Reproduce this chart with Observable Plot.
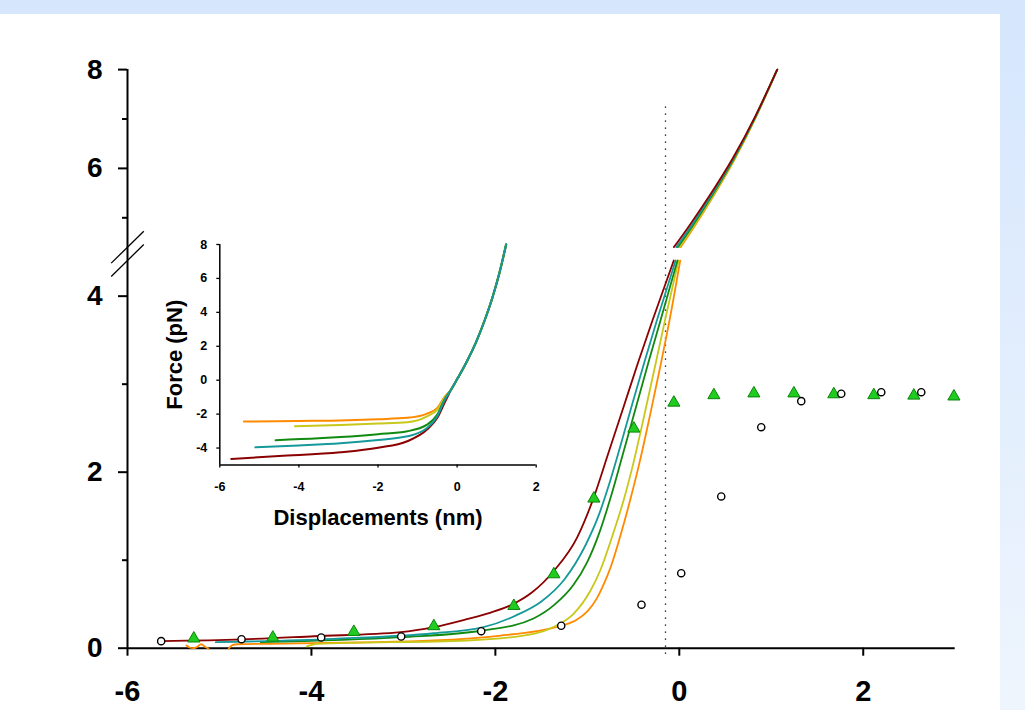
<!DOCTYPE html>
<html><head><meta charset="utf-8">
<script src="https://cdn.jsdelivr.net/npm/d3@7"></script>
<script src="https://cdn.jsdelivr.net/npm/@observablehq/plot@0.6"></script>
<style>
html,body{margin:0;padding:0;}
body{width:1025px;height:710px;overflow:hidden;position:relative;background:linear-gradient(#d5e6fd,#eef5fd);font-family:"Liberation Sans",Arial,sans-serif;color:#000;}
#panel{position:absolute;left:0;top:14px;width:1000px;height:696px;background:#fff;}
#main{position:absolute;left:0;top:0;}
#inset{position:absolute;left:130px;top:225px;}
</style></head><body>
<div id="panel"></div><div id="main"></div><div id="inset"></div>
<script>
// ---------- series colours ----------
const colRed = "#8b0000", colTeal = "#16999b", colGreen = "#118a11", colYellow = "#c8c81a", colOrange = "#ff8a00";

// ---------- main chart: fitted curves, lower (0..4.4) part ----------
const mainLowerRed = [[-5.63,0.08],[-4.76,0.10],[-3.97,0.136],[-3.03,0.182],[-2.67,0.239],[-2.31,0.33],[-2.05,0.405],[-1.80,0.505],[-1.60,0.635],[-1.36,0.883],[-1.11,1.26],[-0.929,1.716],[-0.77,2.22],[-0.60,2.76],[-0.45,3.24],[-0.29,3.73],[-0.06,4.405]];
const mainLowerTeal = [[-5.04,0.068],[-3.76,0.107],[-2.67,0.170],[-2.13,0.239],[-1.78,0.37],[-1.50,0.53],[-1.25,0.78],[-1.02,1.17],[-0.88,1.50],[-0.77,1.84],[-0.64,2.30],[-0.51,2.78],[-0.38,3.25],[-0.245,3.72],[-0.04,4.405]];
const mainLowerGreen = [[-4.55,0.068],[-3.03,0.125],[-2.13,0.201],[-1.585,0.338],[-1.35,0.50],[-1.15,0.72],[-1.00,0.98],[-0.87,1.31],[-0.75,1.70],[-0.62,2.18],[-0.46,2.78],[-0.33,3.27],[-0.20,3.74],[-0.02,4.405]];
const mainLowerYellow = [[-4.05,0.02],[-3.94,0.05],[-2.31,0.0875],[-1.585,0.164],[-1.35,0.25],[-1.15,0.391],[-0.965,0.656],[-0.86,0.883],[-0.72,1.30],[-0.60,1.70],[-0.50,2.10],[-0.38,2.65],[-0.26,3.22],[-0.14,3.80],[-0.008,4.405]];
const mainLowerOrange = [[-5.36,0.03],[-5.32,0.005],[-5.29,0.0],[-5.25,0.01],[-5.20,0.045],[-5.15,0.01],[-5.12,-0.005],[NaN,NaN],
  [-4.90,-0.005],[-4.86,0.035],[-4.80,0.045],[-4.445,0.05],[-3.5,0.065],[-2.67,0.0875],[-1.94,0.144],[-1.55,0.195],[-1.28,0.255],[-1.12,0.32],[-1.00,0.418],[-0.90,0.56],[-0.82,0.73],[-0.74,0.94],[-0.64,1.28],[-0.53,1.70],[-0.43,2.12],[-0.32,2.64],[-0.205,3.21],[-0.10,3.76],[0.01,4.405]];

// ---------- main chart: fitted curves, upper (4.4..8) part ----------
const mainUpperRed = [[-0.059,4.406],[0.09,4.79],[0.33,5.45],[0.58,6.20],[0.83,7.07],[1.065,8.0]];
const mainUpperTeal = [[-0.032,4.406],[0.113,4.79],[0.346,5.45],[0.589,6.20],[0.834,7.07],[1.065,8.0]];
const mainUpperGreen = [[-0.016,4.406],[0.127,4.79],[0.356,5.45],[0.595,6.20],[0.836,7.07],[1.065,8.0]];
const mainUpperYellow = [[0.003,4.406],[0.143,4.79],[0.367,5.45],[0.602,6.20],[0.839,7.07],[1.065,8.0]];
const mainUpperOrange = [[0.014,4.406],[0.152,4.79],[0.374,5.45],[0.606,6.20],[0.841,7.07],[1.065,8.0]];

// ---------- main chart: measured points ----------
const triX = [-5.279,-4.420,-3.539,-2.669,-1.799,-1.364,-0.929,-0.494,-0.059,0.376,0.811,1.246,1.680,2.115,2.550,2.986];
const triY = [0.11,0.12,0.185,0.25,0.48,0.84,1.70,2.495,2.79,2.875,2.895,2.895,2.885,2.875,2.87,2.86];
const circX = [-5.634,-4.760,-3.894,-3.024,-2.154,-1.284,-0.411,0.021,0.456,0.891,1.326,1.761,2.196,2.631];
const circY = [0.080,0.102,0.122,0.133,0.193,0.255,0.494,0.852,1.724,2.511,2.807,2.891,2.909,2.909];

// ---------- main chart: axes ----------
const mainXTicks = [-6,-4,-2,0,2];
const mainYTicks = [0,2,4,6,8];
const mainYMinor = [1,3,5,7];
const yBreakLow = 4.405, yBreakHigh = 4.406;   // broken y axis
const breakGap = 0.152, upperRatio = 0.5613;    // gap and compression of the upper part
const breakMarks = [[-6.177,4.375,-5.823,4.728],[-6.177,4.224,-5.823,4.459]];
const contactX = -0.15;  // dotted reference line
const contactY = [-0.07, 7.3];

// ---------- inset ----------
const insetCommon = [[0.02,0.14],[0.25,1.12],[0.48,2.25],[0.70,3.55],[0.89,4.85],[1.07,6.32],[1.24,8.0]];
const insetRed = [[-5.71,-4.64],[-4.5,-4.47],[-2.95,-4.25],[-2.0,-3.98],[-1.26,-3.60],[-0.76,-2.91],[-0.50,-2.22],[-0.32,-1.35],[-0.15,-0.55]];
const insetTeal = [[-5.10,-3.96],[-4.0,-3.85],[-2.95,-3.72],[-2.0,-3.52],[-1.26,-3.31],[-0.76,-2.82],[-0.50,-2.12],[-0.32,-1.20],[-0.15,-0.55]];
const insetGreen = [[-4.59,-3.54],[-3.5,-3.43],[-2.95,-3.35],[-2.0,-3.18],[-1.26,-3.01],[-0.76,-2.62],[-0.50,-2.03],[-0.32,-1.15],[-0.15,-0.55]];
const insetYellow = [[-4.10,-2.72],[-2.95,-2.64],[-2.0,-2.56],[-1.26,-2.48],[-0.76,-2.13],[-0.50,-1.73],[-0.32,-1.04],[-0.15,-0.55]];
const insetOrange = [[-5.39,-2.44],[-4.0,-2.40],[-2.95,-2.37],[-2.0,-2.30],[-1.26,-2.22],[-0.76,-1.97],[-0.50,-1.63],[-0.32,-1.0],[-0.15,-0.55]];
const insetXTicks = [-6,-4,-2,0,2];
const insetYTicks = [-4,-2,0,2,4,6,8];
const insetXLabel = "Displacements (nm)";
const insetYLabel = "Force (pN)";

// ---------- build ----------
// broken-axis mapping of force values onto the linear y scale
const brk = v => v <= yBreakLow ? v : yBreakLow + breakGap + (v - yBreakHigh) * upperRatio;
const rowsB = a => a.map(([x, y]) => ({x, y: brk(y)}));
const rows = a => a.map(([x, y]) => ({x, y}));
const font = "'Liberation Sans', Arial, sans-serif";
const fmt = d => String(d);
const yLabelOf = new Map(mainYTicks.concat(mainYMinor).map(t => [brk(t), String(t)]));
const lineB = (a, c, w) => Plot.line(rowsB(a), {x: "x", y: "y", stroke: c, strokeWidth: w, curve: "monotone-x"});
const lineOf = (a, c, w) => Plot.line(rows(a), {x: "x", y: "y", stroke: c, strokeWidth: w, curve: "monotone-x"});

const main = Plot.plot({
  width: 1000, height: 710,
  marginLeft: 127, marginRight: 45.3, marginTop: 69.1, marginBottom: 62.3,
  style: {background: "transparent", fontFamily: font, color: "black"},
  x: {domain: [-6, 3], axis: null},
  y: {domain: [0, brk(8)], axis: null},
  marks: [
    Plot.ruleX([contactX], {y1: brk(contactY[0]), y2: brk(contactY[1]), stroke: "black", strokeWidth: 1.3, strokeDasharray: "1.3,5.7"}),
    Plot.ruleX([-6], {y1: 0, y2: brk(8), stroke: "black", strokeWidth: 2}),
    Plot.ruleY([0], {x1: -6, x2: 3, stroke: "black", strokeWidth: 2}),
    Plot.axisY(mainYTicks.map(brk), {anchor: "left", tickSize: 9, tickPadding: 16, fontSize: 28, fontWeight: "bold", strokeWidth: 2, tickFormat: u => yLabelOf.get(u), label: null}),
    Plot.axisY(mainYMinor.map(brk), {anchor: "left", tickSize: 5, tickFormat: () => "", strokeWidth: 2, label: null}),
    Plot.axisX(mainXTicks, {anchor: "bottom", tickSize: 8, tickPadding: 24, fontSize: 29, fontWeight: "bold", strokeWidth: 2, tickFormat: fmt, label: null}),
    Plot.link(breakMarks, {x1: d => d[0], y1: d => brk(d[1]), x2: d => d[2], y2: d => brk(d[3]), stroke: "black", strokeWidth: 1.3}),
    lineB(mainLowerOrange, colOrange, 1.8),
    lineB(mainLowerYellow, colYellow, 1.8),
    lineB(mainLowerGreen, colGreen, 1.8),
    lineB(mainLowerTeal, colTeal, 1.8),
    lineB(mainLowerRed, colRed, 1.8),
    lineB(mainUpperOrange, colOrange, 1.8),
    lineB(mainUpperYellow, colYellow, 1.8),
    lineB(mainUpperGreen, colGreen, 1.8),
    lineB(mainUpperTeal, colTeal, 1.8),
    lineB(mainUpperRed, colRed, 1.8),
    Plot.dot(triX.map((x, i) => ({x, y: brk(triY[i])})), {x: "x", y: "y", symbol: "triangle", r: 4.5, fill: "#1fcc1f", stroke: "#0a850a", strokeWidth: 1}),
    Plot.dot(circX.map((x, i) => ({x, y: brk(circY[i])})), {x: "x", y: "y", r: 3.6, fill: "white", stroke: "black", strokeWidth: 1.4})
  ]
});
document.getElementById("main").appendChild(main);

const inset = Plot.plot({
  width: 430, height: 320,
  marginLeft: 89.3, marginRight: 24.3, marginTop: 19, marginBottom: 80.5,
  style: {background: "transparent", fontFamily: font, color: "black"},
  x: {domain: [-6, 2], axis: null},
  y: {domain: [-5, 8], axis: null},
  marks: [
    Plot.ruleX([-6], {y1: -5, y2: 8, stroke: "black", strokeWidth: 1.5}),
    Plot.ruleY([-5], {x1: -6, x2: 2, stroke: "black", strokeWidth: 1.5}),
    Plot.axisY(insetYTicks, {anchor: "left", tickSize: 3, tickPadding: 9.5, fontSize: 12.5, fontWeight: "bold", strokeWidth: 1.3, tickFormat: fmt, label: null}),
    Plot.axisX(insetXTicks, {anchor: "bottom", tickSize: 3, tickPadding: 14, fontSize: 12.5, fontWeight: "bold", strokeWidth: 1.3, tickFormat: fmt, label: null}),
    lineOf(insetRed.concat(insetCommon), colRed, 2),
    lineOf(insetOrange.concat(insetCommon), colOrange, 2),
    lineOf(insetYellow.concat(insetCommon), colYellow, 2),
    lineOf(insetGreen.concat(insetCommon), colGreen, 2),
    lineOf(insetTeal.concat(insetCommon), colTeal, 2),
    Plot.text([insetXLabel], {text: d => d, frameAnchor: "bottom", textAnchor: "middle", lineAnchor: "middle", dy: 53, fontSize: 22, fontWeight: "bold"}),
    Plot.text([insetYLabel], {text: d => d, frameAnchor: "left", textAnchor: "middle", lineAnchor: "middle", dx: -44.6, rotate: -90, fontSize: 22, fontWeight: "bold"})
  ]
});
document.getElementById("inset").appendChild(inset);
</script></body></html>
